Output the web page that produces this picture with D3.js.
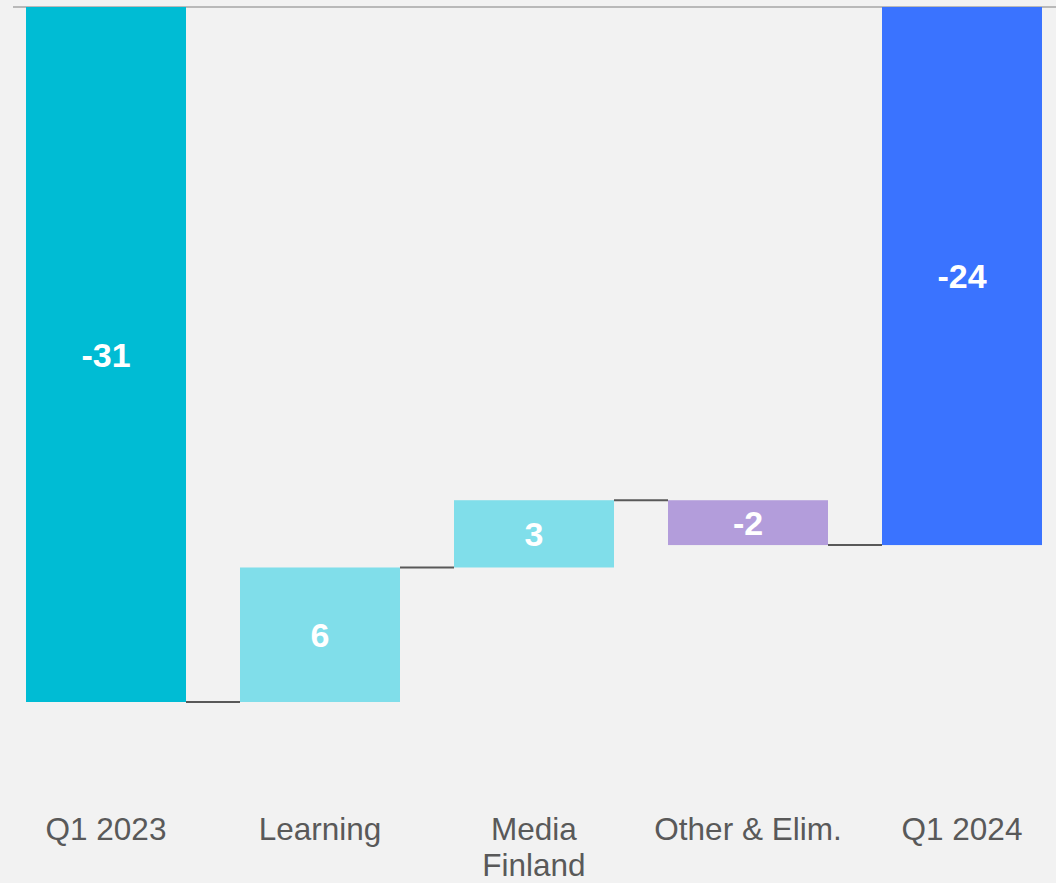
<!DOCTYPE html>
<html>
<head>
<meta charset="utf-8">
<script src="https://cdn.jsdelivr.net/npm/d3@7"></script>
<style>
  html, body { margin: 0; padding: 0; background: #f2f2f2; }
  svg { display: block; }
</style>
</head>
<body>
<svg id="chart" width="1056" height="883"></svg>
<script>
// Operating result bridge, Q1 2023 → Q1 2024
const categories = ["Q1 2023", "Learning", "Media Finland", "Other & Elim.", "Q1 2024"];
const values = [-31, 6, 3, -2, -24];
const kinds = ["total", "delta", "delta", "delta", "total"];
const labelLines = [["Q1 2023"], ["Learning"], ["Media", "Finland"], ["Other & Elim."], ["Q1 2024"]];
const barColors = ["#00bcd4", "#80deea", "#80deea", "#b39ddb", "#3a73ff"];

const W = 1056, H = 883;
const svg = d3.select("#chart");

// Running start/end for each step
let running = 0;
const steps = categories.map((c, i) => {
  let start, end;
  if (kinds[i] === "total") { start = 0; end = values[i]; running = values[i]; }
  else { start = running; end = running + values[i]; running = end; }
  return { cat: c, value: values[i], start, end, lines: labelLines[i], color: barColors[i] };
});

const x = d3.scaleBand().domain(categories).range([26, 1042]).paddingInner(54 / 214).paddingOuter(0);
const y = d3.scaleLinear().domain([0, -31]).range([7, 702]);

// Zero line
svg.append("line")
  .attr("x1", 13).attr("x2", W)
  .attr("y1", y(0)).attr("y2", y(0))
  .attr("stroke", "#a6a6a6").attr("stroke-width", 1.5);

// Bars
svg.append("g").selectAll("rect").data(steps).join("rect")
  .attr("x", d => x(d.cat))
  .attr("width", x.bandwidth())
  .attr("y", d => Math.min(y(d.start), y(d.end)))
  .attr("height", d => Math.abs(y(d.start) - y(d.end)))
  .attr("fill", d => d.color);

// Connectors between consecutive bars
svg.append("g").selectAll("line").data(steps.slice(0, -1)).join("line")
  .attr("x1", d => x(d.cat) + x.bandwidth())
  .attr("x2", (d, i) => x(steps[i + 1].cat))
  .attr("y1", d => y(d.end))
  .attr("y2", d => y(d.end))
  .attr("stroke", "#595959").attr("stroke-width", 2);

// Value labels (plain hyphen for negatives)
svg.append("g").selectAll("text").data(steps).join("text")
  .attr("x", d => x(d.cat) + x.bandwidth() / 2)
  .attr("y", d => (y(d.start) + y(d.end)) / 2)
  .attr("text-anchor", "middle")
  .attr("dominant-baseline", "central")
  .attr("font-family", "'Liberation Sans', Arial, sans-serif")
  .attr("font-weight", "bold")
  .attr("font-size", 34)
  .attr("fill", "#ffffff")
  .text(d => String(d.value));

// Category labels
const cl = svg.append("g").selectAll("text").data(steps).join("text")
  .attr("x", d => x(d.cat) + x.bandwidth() / 2)
  .attr("y", 840)
  .attr("text-anchor", "middle")
  .attr("font-family", "'Liberation Sans', Arial, sans-serif")
  .attr("font-size", 31.5)
  .attr("fill", "#595959");
cl.selectAll("tspan").data(d => d.lines.map(t => ({ t, cx: x(d.cat) + x.bandwidth() / 2 }))).join("tspan")
  .attr("x", d => d.cx)
  .attr("dy", (d, i) => i === 0 ? 0 : 36)
  .text(d => d.t);
</script>
</body>
</html>
